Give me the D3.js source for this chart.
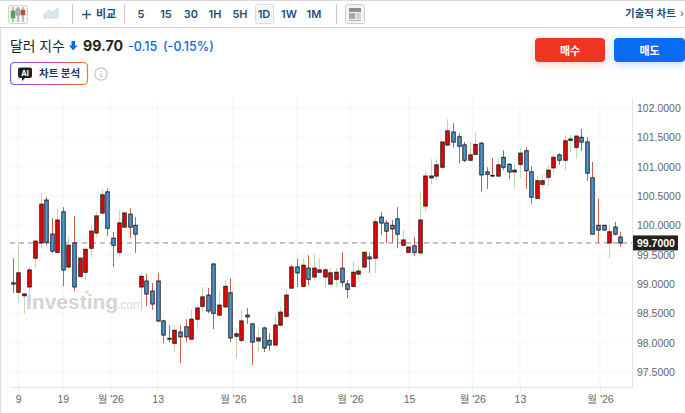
<!DOCTYPE html>
<html>
<head>
<meta charset="utf-8">
<script src="https://cdn.jsdelivr.net/npm/d3@7/dist/d3.min.js"></script>
<style>
body{margin:0;background:#fff;overflow:hidden}
svg{display:block;font-family:"Inter","Noto Sans CJK KR",sans-serif}
.axis text{font-family:"Liberation Sans","Noto Sans CJK KR",sans-serif}
</style>
</head>
<body>
<svg id="chart" width="685" height="413"></svg>
<script>
var opens = [99.02,98.86,98.80,98.95,99.44,99.70,100.43,99.85,99.54,100.23,99.29,99.70,99.13,99.20,99.61,99.87,100.21,100.57,99.78,99.54,99.97,100.19,100.00,98.95,99.05,98.88,99.05,98.37,98.07,97.99,98.18,98.27,98.06,98.40,98.62,98.81,99.34,98.47,98.61,98.85,98.11,98.04,98.47,98.32,98.03,98.25,98.04,97.96,98.30,98.45,98.93,99.29,98.96,99.27,99.12,99.20,99.12,99.00,99.08,99.27,99.00,98.96,99.17,99.29,99.46,99.44,100.14,100.04,100.00,100.11,99.66,99.54,99.65,99.53,100.33,100.81,100.84,100.99,101.37,101.59,101.51,101.37,101.11,101.21,101.40,100.91,100.85,100.84,101.16,101.04,100.91,101.04,101.27,100.91,100.46,100.70,100.82,100.98,101.20,101.11,101.45,101.33,101.50,101.42,100.81,100.00,100.00,99.70,99.97,99.80];
var highs = [99.44,99.70,98.84,99.29,99.75,100.55,100.48,100.12,100.29,100.31,99.80,100.16,99.44,99.61,100.00,100.23,100.62,100.63,99.89,100.26,100.23,100.29,100.14,99.19,99.17,99.02,99.19,98.39,98.30,98.30,98.30,98.40,98.57,98.64,98.95,98.93,99.36,98.88,99.07,99.10,98.25,98.56,98.59,98.33,98.27,98.27,98.16,98.47,98.61,98.91,99.34,99.43,99.44,99.49,99.51,99.43,99.27,99.27,99.27,99.54,99.07,99.39,99.32,99.54,99.54,100.12,100.23,100.09,100.09,100.31,99.92,99.63,99.80,100.58,100.92,101.13,101.13,101.42,101.81,101.74,101.57,101.42,101.42,101.59,101.42,100.99,101.15,101.15,101.28,101.06,101.06,101.32,101.33,101.01,100.84,100.87,101.03,101.21,101.23,101.54,101.54,101.54,101.64,101.50,101.08,100.46,100.00,100.02,100.06,99.89];
var lows = [98.85,98.69,98.50,98.69,99.27,99.61,99.66,99.53,99.53,98.96,99.27,98.88,99.12,99.07,99.46,99.80,100.18,99.82,99.29,99.46,99.95,99.78,99.53,98.54,98.62,98.56,98.35,97.99,98.01,97.84,97.65,98.01,98.06,98.23,98.54,98.50,98.23,98.45,98.59,98.01,97.74,97.98,98.32,97.62,97.84,97.84,97.86,97.96,98.27,98.43,98.93,98.95,98.95,98.98,99.07,99.20,98.93,98.98,98.95,98.95,98.76,98.95,99.07,99.29,99.19,99.19,99.83,99.70,99.70,99.61,99.66,99.54,99.48,99.53,100.23,100.70,100.76,100.99,101.35,101.32,101.06,101.08,101.08,101.21,100.57,100.62,100.82,100.84,100.94,100.79,100.62,100.81,100.62,100.36,100.46,100.65,100.67,100.87,101.03,100.94,101.25,101.13,101.27,100.76,99.85,99.70,99.92,99.44,99.83,99.63];
var closes = [99.00,99.19,98.83,99.24,99.73,100.36,99.71,99.56,100.09,99.24,99.66,98.95,99.44,99.59,99.90,100.16,100.52,99.95,99.66,100.04,100.21,99.97,99.85,99.13,98.83,98.66,98.37,98.13,98.06,98.21,98.10,98.10,98.40,98.59,98.78,98.54,98.50,98.64,98.96,98.08,98.15,98.37,98.44,98.01,98.08,97.91,97.96,98.30,98.52,98.81,99.29,99.19,99.32,99.08,99.27,99.24,99.24,99.19,99.20,99.03,98.91,99.20,99.22,99.54,99.43,100.06,100.04,99.90,99.94,99.85,99.75,99.63,99.54,100.09,100.84,100.84,101.03,101.42,101.61,101.42,101.35,101.11,101.20,101.38,100.86,100.87,100.84,101.03,100.99,100.91,100.94,101.23,100.93,100.48,100.76,100.76,100.94,101.16,101.11,101.44,101.47,101.52,101.42,100.89,99.85,99.92,99.92,99.89,99.85,99.70];
var xTickAt = [1,9,17.5,26,39.5,51,60.5,71.1,82.45,91,105.35];
var xTickLabels = ["9","19","월 '26","13","월 '26","18","월 '26","15","월 '26","13","월 '26"];
var yTicks = [102,101.5,101,100.5,100,99.5,99,98.5,98,97.5];
var lastPrice = 99.70;
var timeframes = ["5","15","30","1H","5H","1D","1W","1M"];
var timeframeX = [141,166,191,215,240,264,289,314];

var svg = d3.select("#chart");
var plotLeft = 10, plotRight = 632, plotTop = 98, plotBottom = 387;

var x = d3.scaleLinear().domain([0, opens.length - 1]).range([12.7, 620.3]);
var y = d3.scaleLinear().domain([97.5, 102]).range([372, 108]);

var defs = svg.append("defs");
var grad = defs.append("linearGradient").attr("id", "aiBorder").attr("x1", 0).attr("x2", 1).attr("y1", 0).attr("y2", 0);
grad.append("stop").attr("offset", "0%").attr("stop-color", "#6a5cf0");
grad.append("stop").attr("offset", "55%").attr("stop-color", "#d83a9a");
grad.append("stop").attr("offset", "100%").attr("stop-color", "#fb7a0e");

// page frame
svg.append("rect").attr("x", 0).attr("y", 0).attr("width", 685).attr("height", 1).attr("fill", "#d9d9d9");
svg.append("rect").attr("x", 0).attr("y", 27).attr("width", 685).attr("height", 1).attr("fill", "#d9d9d9");
svg.append("rect").attr("x", 0).attr("y", 28).attr("width", 1).attr("height", 385).attr("fill", "#dedede");

// toolbar
svg.append("rect").attr("x", 8.5).attr("y", 5.5).attr("width", 19).attr("height", 18).attr("rx", 2).attr("fill", "#f4f4f4").attr("stroke", "#d4d4d4");
[[13, 11, 18, "#4ea94b"], [18, 9, 15, "#b9b9b9"], [23, 10, 15, "#d9402f"]].forEach(function(c){
	svg.append("line").attr("x1", c[0]).attr("x2", c[0]).attr("y1", 7).attr("y2", 22).attr("stroke", "#888");
	svg.append("rect").attr("x", c[0] - 2).attr("y", c[1]).attr("width", 4).attr("height", c[2] - c[1]).attr("fill", c[3]).attr("stroke", "#777").attr("stroke-width", 0.5);
});
svg.append("path").attr("d", "M44 18 L44 14 L49 10 L53 12 L58 8.5 L58 18 Z").attr("fill", "#dbe6f0").attr("stroke", "#c2d3e3").attr("stroke-width", 0.8);
[72.5, 124.5, 336.5].forEach(function(px){
	svg.append("rect").attr("x", px - 0.5).attr("y", 4).attr("width", 1).attr("height", 20).attr("fill", "#c9c9c9");
});
svg.append("path").attr("d", "M82 14.5 H91 M86.5 10 V19").attr("stroke", "#1d5c94").attr("stroke-width", 1.4).attr("fill", "none");
svg.append("text").attr("x", 96).attr("y", 17.5).attr("font-size", 11).attr("font-weight", 700).attr("fill", "#1d4f7c").text("비교");

svg.append("rect").attr("x", 255.5).attr("y", 4.5).attr("width", 18).attr("height", 19).attr("rx", 2).attr("fill", "#f5f5f5").attr("stroke", "#dcdcdc");
svg.selectAll(".tf").data(timeframes).enter().append("text")
	.attr("class", "tf")
	.attr("x", function(d, i){return timeframeX[i]})
	.attr("y", 17.5)
	.attr("text-anchor", "middle")
	.attr("font-size", 11)
	.attr("font-weight", 600)
	.attr("fill", "#1d4f7c")
	.text(function(d){return d});

svg.append("rect").attr("x", 345.5).attr("y", 4.5).attr("width", 19).attr("height", 19).attr("rx", 2).attr("fill", "#f4f4f4").attr("stroke", "#d0d0d0");
svg.append("rect").attr("x", 349).attr("y", 8).attr("width", 12).attr("height", 4).attr("fill", "#8e8e8e");
svg.append("rect").attr("x", 349).attr("y", 13).attr("width", 6).attr("height", 6).attr("fill", "#a8a8a8");
svg.append("path").attr("d", "M356 14 H361 M356 16 H361 M356 18 H361 M349 20.5 H361").attr("stroke", "#b0b0b0").attr("fill", "none");
svg.append("text").attr("x", 625).attr("y", 17).attr("font-size", 10.5).attr("font-weight", 700).attr("fill", "#1d4f7c").text("기술적 차트");
svg.append("text").attr("x", 680).attr("y", 17).attr("font-size", 10).attr("fill", "#1d4f7c").text("›");

// title row
svg.append("text").attr("x", 10).attr("y", 51).attr("font-size", 13.8).attr("fill", "#232526").text("달러 지수");
svg.append("path").attr("d", "M71.5 41 H75 V45.5 H77.5 L73.2 50.5 L69 45.5 H71.5 Z").attr("fill", "#0a69e0");
svg.append("text").attr("x", 83).attr("y", 51).attr("font-size", 14.2).attr("font-weight", 700).attr("fill", "#232526").text(lastPrice.toFixed(2));
svg.append("text").attr("x", 128).attr("y", 51).attr("font-size", 12.5).attr("font-weight", 500).attr("fill", "#0a69e0").text("-0.15");
svg.append("text").attr("x", 163).attr("y", 51).attr("font-size", 12.5).attr("font-weight", 500).attr("fill", "#0a69e0").text("(-0.15%)");

// AI chip
svg.append("rect").attr("x", 10.5).attr("y", 62.5).attr("width", 77).attr("height", 22).attr("rx", 4).attr("fill", "#fff").attr("stroke", "url(#aiBorder)").attr("stroke-width", 1.2);
svg.append("path").attr("d", "M20 67.5 H30 Q32 67.5 32 69.5 V76 Q32 78 30 78 H25 L22 81 V78 H20 Q18 78 18 76 V69.5 Q18 67.5 20 67.5 Z").attr("fill", "#1f2123");
svg.append("text").attr("x", 25).attr("y", 76).attr("text-anchor", "middle").attr("font-size", 7.5).attr("font-weight", 700).attr("fill", "#fff").text("AI");
svg.append("text").attr("x", 39).attr("y", 77).attr("font-size", 10.5).attr("font-weight", 700).attr("fill", "#1d3557").text("차트 분석");
svg.append("circle").attr("cx", 101).attr("cy", 74).attr("r", 6.2).attr("fill", "#fff").attr("stroke", "#c4c4c4").attr("stroke-width", 1.2);
svg.append("text").attr("x", 101).attr("y", 77.5).attr("text-anchor", "middle").attr("font-size", 9).attr("fill", "#b0b0b0").text("i");

// buy and sell
svg.append("rect").attr("x", 535).attr("y", 38).attr("width", 70).attr("height", 24).attr("rx", 4).attr("fill", "#ee3524").style("filter", "drop-shadow(0 2px 4px rgba(238,53,36,.28))");
svg.append("rect").attr("x", 614).attr("y", 38).attr("width", 71).attr("height", 24).attr("rx", 4).attr("fill", "#0a6cf5").style("filter", "drop-shadow(0 2px 4px rgba(10,108,245,.28))");
svg.append("text").attr("x", 570).attr("y", 54.5).attr("text-anchor", "middle").attr("font-size", 11).attr("font-weight", 700).attr("fill", "#fff").text("매수");
svg.append("text").attr("x", 649.5).attr("y", 54.5).attr("text-anchor", "middle").attr("font-size", 11).attr("font-weight", 700).attr("fill", "#fff").text("매도");

// grid
svg.selectAll(".hgrid").data(yTicks).enter().append("line")
	.attr("class", "hgrid")
	.attr("x1", plotLeft).attr("x2", plotRight)
	.attr("y1", function(d){return y(d)})
	.attr("y2", function(d){return y(d)})
	.attr("stroke", "#f3f5f8");
svg.selectAll(".vgrid").data(xTickAt).enter().append("line")
	.attr("class", "vgrid")
	.attr("x1", function(d){return x(d)})
	.attr("x2", function(d){return x(d)})
	.attr("y1", plotTop).attr("y2", plotBottom)
	.attr("stroke", "#f3f5f8");

// watermark
svg.append("text").attr("x", 26).attr("y", 309).attr("font-family", "Liberation Sans").attr("font-size", 21).attr("font-weight", 700).attr("fill", "#d4d4d4").text("Investing");
svg.append("text").attr("x", 117).attr("y", 309).attr("font-family", "Liberation Sans").attr("font-size", 12).attr("fill", "#dadada").text(".com");
svg.append("circle").attr("cx", 87).attr("cy", 292).attr("r", 2).attr("fill", "#f7dcb0");

// axes
var yAxis = d3.axisRight(y).tickValues(yTicks).tickSize(0).tickPadding(5).tickFormat(d3.format(".4f"));
svg.append("g").attr("class", "axis").attr("transform", "translate(" + plotRight + ",0)").call(yAxis)
	.call(function(g){
		g.select(".domain").remove();
		g.selectAll("text").attr("font-size", 10.5).attr("fill", "#666");
	});
svg.append("line").attr("x1", plotRight + 0.5).attr("x2", plotRight + 0.5).attr("y1", plotTop).attr("y2", plotBottom).attr("stroke", "#e2e6ec");

var xAxis = d3.axisBottom(x).tickValues(xTickAt).tickSize(4).tickPadding(5).tickFormat(function(d, i){return xTickLabels[i]});
svg.append("g").attr("class", "axis").attr("transform", "translate(0," + plotBottom + ")").call(xAxis)
	.call(function(g){
		g.select(".domain").remove();
		g.selectAll("line").attr("stroke", "#e2e6ec");
		g.selectAll("text").attr("font-size", 10.5).attr("fill", "#666");
	});
svg.append("line").attr("x1", plotLeft).attr("x2", plotRight + 1).attr("y1", plotBottom + 0.5).attr("y2", plotBottom + 0.5).attr("stroke", "#e2e6ec");

// last price line sits under the candles
svg.append("line")
	.attr("x1", plotLeft).attr("x2", plotRight)
	.attr("y1", y(lastPrice)).attr("y2", y(lastPrice))
	.attr("stroke", "#8a8a8a")
	.attr("stroke-dasharray", "5,4");

// candles
var idx = d3.range(opens.length);
var isUp = function(i){return closes[i] >= opens[i]};
svg.selectAll(".wick").data(idx).enter().append("line")
	.attr("class", "wick")
	.attr("x1", function(i){return Math.round(x(i)) + 0.5})
	.attr("x2", function(i){return Math.round(x(i)) + 0.5})
	.attr("y1", function(i){return y(highs[i])})
	.attr("y2", function(i){return y(lows[i])})
	.attr("stroke", function(i){return isUp(i) ? "#bcdcb0" : "#c8604c"});
svg.selectAll(".halo").data(idx).enter().append("rect")
	.attr("class", "halo")
	.attr("x", function(i){return Math.round(x(i)) - 1.5})
	.attr("width", 4)
	.attr("y", function(i){return y(Math.max(opens[i], closes[i])) - 0.5})
	.attr("height", function(i){return Math.abs(y(opens[i]) - y(closes[i])) + 1})
	.attr("fill", "none")
	.attr("stroke", "#000")
	.attr("stroke-opacity", 0.15);
svg.selectAll(".body").data(idx).enter().append("rect")
	.attr("class", "body")
	.attr("x", function(i){return Math.round(x(i)) - 1.2})
	.attr("width", 3.4)
	.attr("y", function(i){return y(Math.max(opens[i], closes[i]))})
	.attr("height", function(i){return Math.max(Math.abs(y(opens[i]) - y(closes[i])), 0.5)})
	.attr("fill", function(i){return isUp(i) ? "#fa0000" : "#4a97d2"})
	.attr("stroke", "#111")
	.attr("stroke-width", 0.8);

// last price label
svg.append("rect").attr("x", 633).attr("y", y(lastPrice) - 7.5).attr("width", 45).attr("height", 15).attr("fill", "#222");
svg.append("text").attr("x", 637).attr("y", y(lastPrice) + 4)
	.attr("font-family", "Liberation Sans")
	.attr("font-size", 10.5)
	.attr("font-weight", 700)
	.attr("fill", "#fff")
	.text(lastPrice.toFixed(4));
</script>
</body>
</html>
